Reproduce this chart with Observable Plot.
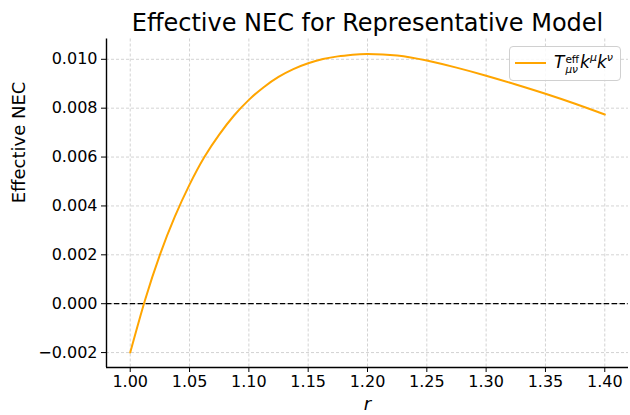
<!DOCTYPE html>
<html>
<head>
<meta charset="utf-8">
<script src="https://cdn.jsdelivr.net/npm/d3@7"></script>
<script src="https://cdn.jsdelivr.net/npm/@observablehq/plot@0.6"></script>
<style>
  html, body { margin: 0; padding: 0; background: #fff; }
  #wrap { position: relative; width: 630px; height: 415px; font-family: "DejaVu Sans", sans-serif; }
  #legend {
    position: absolute; left: 509px; top: 46px; width: 112px; height: 35px;
    box-sizing: border-box; border: 1px solid #d0d0d0; border-radius: 4px;
    background: rgba(255,255,255,0.85); font-family: "DejaVu Sans", sans-serif; color: #000;
  }
  #legend .sw { position: absolute; left: 5px; top: 15px; width: 31px; height: 0; border-top: 2px solid #ffa500; }
  #legend .tx { position: absolute; left: 44px; top: 5px; font-size: 17px; line-height: 20px; white-space: nowrap; }
  #legend i { font-style: oblique; }
  #legend .ss { display: inline-block; vertical-align: -5px; font-size: 10.5px; line-height: 10.5px; margin-left: 1px; margin-right: 1px; }
  #legend .ss span { display: block; }
  #legend sup { font-size: 11px; vertical-align: 7px; line-height: 0; }
</style>
</head>
<body>
<div id="wrap"><div id="legend"><span class="sw"></span><span class="tx"><i>T</i><span class="ss"><span>eff</span><span><i>μν</i></span></span><i>k</i><sup><i>μ</i></sup><i>k</i><sup><i>ν</i></sup></span></div></div>
<script>
// Data
const rValues = [1.000, 1.0125, 1.025, 1.0375, 1.050, 1.0625, 1.075, 1.0875, 1.100, 1.1125, 1.125, 1.1375, 1.150, 1.1625, 1.175, 1.1875, 1.200, 1.225, 1.250, 1.275, 1.300, 1.325, 1.350, 1.375, 1.400];
const necValues = [-0.0020, 0.00015, 0.0020, 0.00355, 0.00487, 0.00600, 0.00692, 0.00770, 0.00834, 0.00886, 0.00928, 0.00960, 0.00984, 0.01001, 0.01012, 0.01019, 0.01022, 0.01016, 0.00995, 0.00966, 0.00933, 0.00897, 0.00859, 0.00818, 0.00774];
const xTicks = [1.00, 1.05, 1.10, 1.15, 1.20, 1.25, 1.30, 1.35, 1.40];
const yTicks = [-0.002, 0.000, 0.002, 0.004, 0.006, 0.008, 0.010];
const titleText = "Effective NEC for Representative Model";
const yLabel = "Effective NEC";
const xLabel = "r";

const data = rValues.map((r, i) => ({r, v: necValues[i]}));
const xPad = (d3.max(rValues) - d3.min(rValues)) * 0.05;
const yPad = (d3.max(necValues) - d3.min(necValues)) * 0.05;
const xDomain = [d3.min(rValues) - xPad, d3.max(rValues) + xPad];
const yDomain = [d3.min(necValues) - yPad, d3.max(necValues) + yPad];

const chart = Plot.plot({
  width: 630,
  height: 415,
  marginLeft: 106,
  marginRight: 2,
  marginTop: 38.5,
  marginBottom: 48,
  style: {fontFamily: "DejaVu Sans, sans-serif", fontSize: "16px", color: "#000", background: "#fff"},
  x: {domain: xDomain},
  y: {domain: yDomain},
  marks: [
    Plot.gridX(xTicks, {stroke: "#b0b0b0", strokeOpacity: 0.7, strokeWidth: 0.8, strokeDasharray: "3,2"}),
    Plot.gridY(yTicks, {stroke: "#b0b0b0", strokeOpacity: 0.7, strokeWidth: 0.8, strokeDasharray: "3,2"}),
    Plot.ruleY([0], {stroke: "#000", strokeWidth: 1.2, strokeDasharray: "5.5,2.4"}),
    Plot.line(data, {x: "r", y: "v", stroke: "#ffa500", strokeWidth: 2, curve: "natural"}),
    Plot.ruleX([xDomain[0]], {stroke: "#000", strokeWidth: 1.4}),
    Plot.ruleY([yDomain[0]], {stroke: "#000", strokeWidth: 1.4}),
    Plot.axisX(xTicks, {tickFormat: d3.format(".2f"), tickSize: 5, tickPadding: 3, label: null, fontSize: 16}),
    Plot.axisY(yTicks, {tickFormat: d3.format(".3f"), tickSize: 5, tickPadding: 4, label: null, fontSize: 16}),
    Plot.text([titleText], {text: d => d, frameAnchor: "top", dy: -16, fontSize: 24, lineAnchor: "middle"}),
    Plot.text([yLabel], {text: d => d, frameAnchor: "left", dx: -87, rotate: -90, fontSize: 18, lineAnchor: "middle"}),
    Plot.text([xLabel], {text: d => d, frameAnchor: "bottom", dy: 37, fontSize: 18, fontStyle: "italic", lineAnchor: "middle"})
  ]
});
document.getElementById("wrap").prepend(chart);
</script>
</body>
</html>
